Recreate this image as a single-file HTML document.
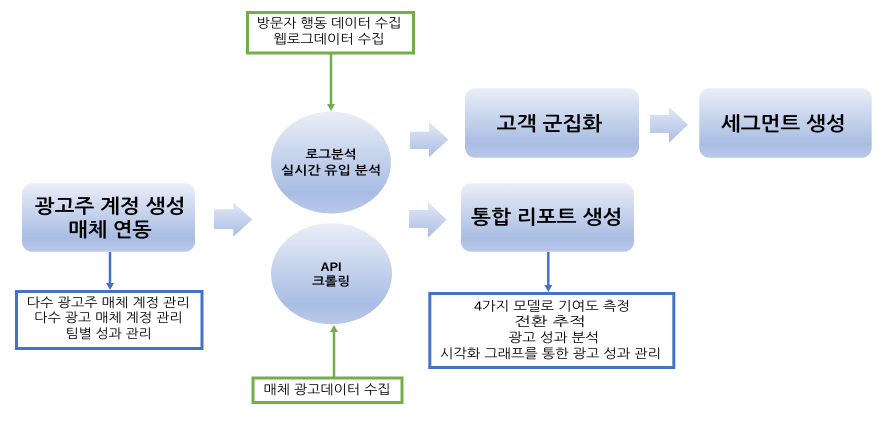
<!DOCTYPE html>
<html><head><meta charset="utf-8"><style>
html,body{margin:0;padding:0;background:#fff;}
svg{display:block;}
text{font-family:"Liberation Sans","NanumGothic","Noto Sans CJK KR",sans-serif;fill:#000;}
.b{font-weight:bold;}
</style></head><body>
<svg width="886" height="427" viewBox="0 0 886 427" xmlns="http://www.w3.org/2000/svg">
<defs>
<linearGradient id="g" x1="0" y1="0" x2="0" y2="1">
<stop offset="0" stop-color="#eaeef8"/>
<stop offset="0.8" stop-color="#a9bde3"/>
<stop offset="1" stop-color="#b9c8ea"/>
</linearGradient>
<linearGradient id="ga" x1="0" y1="0" x2="0" y2="1">
<stop offset="0" stop-color="#e4eaf6"/>
<stop offset="1" stop-color="#a9bde3"/>
</linearGradient>
</defs>

<!-- top green box -->
<rect x="247.5" y="12.5" width="166" height="40.5" fill="#fff" stroke="#74ae48" stroke-width="3"/>
<text x="329" y="27.5" font-size="13" text-anchor="middle" textLength="145" lengthAdjust="spacingAndGlyphs">방문자 행동 데이터 수집</text>
<text x="329" y="43.5" font-size="13" text-anchor="middle" textLength="111" lengthAdjust="spacingAndGlyphs">웹로그데이터 수집</text>
<line x1="331" y1="54" x2="331" y2="105" stroke="#74ae48" stroke-width="2.5"/>
<polygon points="327,104 335,104 331,111" fill="#74ae48"/>

<!-- ellipses -->
<ellipse cx="331" cy="162.5" rx="60" ry="51" fill="url(#g)"/>
<text class="b" x="331" y="158.7" font-size="12" text-anchor="middle" textLength="51" lengthAdjust="spacingAndGlyphs">로그분석</text>
<text class="b" x="331" y="174.5" font-size="12" text-anchor="middle" textLength="100" lengthAdjust="spacingAndGlyphs">실시간 유입 분석</text>

<ellipse cx="331.5" cy="273.7" rx="60.5" ry="50.5" fill="url(#g)"/>
<text class="b" x="331" y="271" font-size="12" text-anchor="middle" textLength="21" lengthAdjust="spacingAndGlyphs">API</text>
<text class="b" x="331" y="285.5" font-size="12" text-anchor="middle" textLength="38" lengthAdjust="spacingAndGlyphs">크롤링</text>

<!-- bottom green box -->
<line x1="334" y1="377" x2="334" y2="331" stroke="#74ae48" stroke-width="2.5"/>
<polygon points="330,332 338,332 334,325" fill="#74ae48"/>
<rect x="253" y="378" width="149" height="24.5" fill="#fff" stroke="#74ae48" stroke-width="3"/>
<text x="327" y="394" font-size="13" text-anchor="middle" textLength="127" lengthAdjust="spacingAndGlyphs">매체 광고데이터 수집</text>

<!-- left box -->
<rect x="22" y="183.3" width="173" height="68.4" rx="10" ry="10" fill="url(#g)"/>
<text class="b" x="110" y="213" font-size="19.5" text-anchor="middle" textLength="150.7" lengthAdjust="spacingAndGlyphs">광고주 계정 생성</text>
<text class="b" x="110" y="236.5" font-size="19.5" text-anchor="middle" textLength="83.4" lengthAdjust="spacingAndGlyphs">매체 연동</text>

<line x1="110" y1="252" x2="110" y2="284" stroke="#4472c4" stroke-width="2.5"/>
<polygon points="106,283 114,283 110,290" fill="#4472c4"/>
<rect x="16.5" y="291.5" width="185.5" height="57" fill="#fff" stroke="#4472c4" stroke-width="3"/>
<text x="108.3" y="306.8" font-size="13" text-anchor="middle" textLength="163" lengthAdjust="spacingAndGlyphs">다수 광고주 매체 계정 관리</text>
<text x="108.5" y="322" font-size="13" text-anchor="middle" textLength="148.4" lengthAdjust="spacingAndGlyphs">다수 광고 매체 계정 관리</text>
<text x="108.7" y="338" font-size="13" text-anchor="middle" textLength="86" lengthAdjust="spacingAndGlyphs">팀별 성과 관리</text>

<!-- block arrows -->
<polygon points="214,209.3 233.3,209.3 233.3,202.3 252.3,219.5 233.3,236.7 233.3,229 214,229" fill="url(#ga)"/>
<polygon points="410,131.7 429,131.7 429,121.7 448.3,139.5 429,157.3 429,149 410,149" fill="url(#ga)"/>
<polygon points="409,210 428,210 428,201.7 446.7,219.7 428,237.7 428,228 409,228" fill="url(#ga)"/>
<polygon points="650,115 669,115 669,106.7 688,124.7 669,142.7 669,133 650,133" fill="url(#ga)"/>

<!-- right boxes -->
<rect x="465" y="88.3" width="174" height="69.4" rx="10" ry="10" fill="url(#g)"/>
<text class="b" x="549.5" y="130.5" font-size="19.5" text-anchor="middle" textLength="105.6" lengthAdjust="spacingAndGlyphs">고객 군집화</text>

<rect x="699.3" y="88.3" width="172.4" height="69.4" rx="10" ry="10" fill="url(#g)"/>
<text class="b" x="783.3" y="130.3" font-size="19.5" text-anchor="middle" textLength="124.7" lengthAdjust="spacingAndGlyphs">세그먼트 생성</text>

<rect x="461" y="183.3" width="173" height="68.4" rx="10" ry="10" fill="url(#g)"/>
<text class="b" x="546.7" y="224" font-size="19.5" text-anchor="middle" textLength="151.3" lengthAdjust="spacingAndGlyphs">통합 리포트 생성</text>

<line x1="548.3" y1="252" x2="548.3" y2="286" stroke="#4472c4" stroke-width="2.5"/>
<polygon points="544.3,285 552.3,285 548.3,292" fill="#4472c4"/>
<rect x="429.8" y="293.5" width="244" height="74" fill="#fff" stroke="#4472c4" stroke-width="3"/>
<text x="552" y="310.3" font-size="13" text-anchor="middle" textLength="156" lengthAdjust="spacingAndGlyphs">4가지 모델로 기여도 측정</text>
<text x="550" y="325.8" font-size="13" text-anchor="middle" textLength="71.4" lengthAdjust="spacingAndGlyphs">전환 추적</text>
<text x="553.7" y="341.8" font-size="13" text-anchor="middle" textLength="90.7" lengthAdjust="spacingAndGlyphs">광고 성과 분석</text>
<text x="550.5" y="357.8" font-size="13" text-anchor="middle" textLength="221" lengthAdjust="spacingAndGlyphs">시각화 그래프를 통한 광고 성과 관리</text>
</svg>
</body></html>
